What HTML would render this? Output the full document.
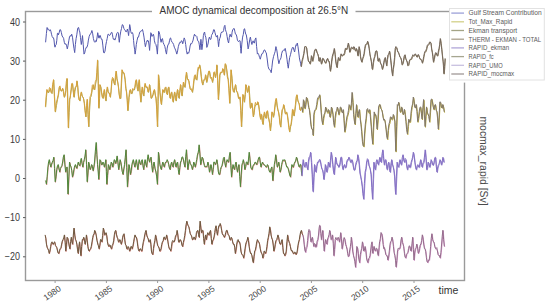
<!DOCTYPE html>
<html><head><meta charset="utf-8"><style>
html,body{margin:0;padding:0;background:#fff;width:550px;height:305px;overflow:hidden}
svg{display:block}
text{font-family:"Liberation Sans", sans-serif;}
.tk{font-size:10.2px;fill:#3a3a3a}
.xt{font-size:8.6px;fill:#444}
.ti{font-size:10.5px;fill:#333}
.al{font-size:10.5px;fill:#333}
.yl{font-size:10.3px;fill:#4a4a4a}
.lg{font-size:7.7px;fill:#5a5a5a}
</style></head><body>
<svg width="550" height="305" viewBox="0 0 550 305">
<rect x="25.5" y="11.5" width="439.0" height="269.0" fill="none" stroke="#9a9a9a" stroke-width="1.4"/>
<line x1="23.0" y1="22.0" x2="25.5" y2="22.0" stroke="#5a5a5a" stroke-width="1"/>
<text transform="translate(19.9,25.5) scale(0.88,1)" text-anchor="end" class="tk">40</text>
<line x1="23.0" y1="61.1" x2="25.5" y2="61.1" stroke="#5a5a5a" stroke-width="1"/>
<text transform="translate(19.9,64.6) scale(0.88,1)" text-anchor="end" class="tk">30</text>
<line x1="23.0" y1="100.2" x2="25.5" y2="100.2" stroke="#5a5a5a" stroke-width="1"/>
<text transform="translate(19.9,103.7) scale(0.88,1)" text-anchor="end" class="tk">20</text>
<line x1="23.0" y1="139.4" x2="25.5" y2="139.4" stroke="#5a5a5a" stroke-width="1"/>
<text transform="translate(19.9,142.9) scale(0.88,1)" text-anchor="end" class="tk">10</text>
<line x1="23.0" y1="178.5" x2="25.5" y2="178.5" stroke="#5a5a5a" stroke-width="1"/>
<text transform="translate(19.9,182.0) scale(0.88,1)" text-anchor="end" class="tk">0</text>
<line x1="23.0" y1="217.6" x2="25.5" y2="217.6" stroke="#5a5a5a" stroke-width="1"/>
<text transform="translate(19.9,221.1) scale(0.88,1)" text-anchor="end" class="tk">−10</text>
<line x1="23.0" y1="256.8" x2="25.5" y2="256.8" stroke="#5a5a5a" stroke-width="1"/>
<text transform="translate(19.9,260.3) scale(0.88,1)" text-anchor="end" class="tk">−20</text>
<line x1="55.1" y1="280.5" x2="55.1" y2="283.0" stroke="#9a9a9a" stroke-width="1"/>
<text transform="translate(61.7,290.1) rotate(-35)" text-anchor="end" class="xt">1980</text>
<line x1="106.4" y1="280.5" x2="106.4" y2="283.0" stroke="#9a9a9a" stroke-width="1"/>
<text transform="translate(113.0,290.1) rotate(-35)" text-anchor="end" class="xt">1985</text>
<line x1="157.6" y1="280.5" x2="157.6" y2="283.0" stroke="#9a9a9a" stroke-width="1"/>
<text transform="translate(164.2,290.1) rotate(-35)" text-anchor="end" class="xt">1990</text>
<line x1="208.9" y1="280.5" x2="208.9" y2="283.0" stroke="#9a9a9a" stroke-width="1"/>
<text transform="translate(215.5,290.1) rotate(-35)" text-anchor="end" class="xt">1995</text>
<line x1="260.2" y1="280.5" x2="260.2" y2="283.0" stroke="#9a9a9a" stroke-width="1"/>
<text transform="translate(266.8,290.1) rotate(-35)" text-anchor="end" class="xt">2000</text>
<line x1="311.4" y1="280.5" x2="311.4" y2="283.0" stroke="#9a9a9a" stroke-width="1"/>
<text transform="translate(318.1,290.1) rotate(-35)" text-anchor="end" class="xt">2005</text>
<line x1="362.7" y1="280.5" x2="362.7" y2="283.0" stroke="#9a9a9a" stroke-width="1"/>
<text transform="translate(369.3,290.1) rotate(-35)" text-anchor="end" class="xt">2010</text>
<line x1="414.0" y1="280.5" x2="414.0" y2="283.0" stroke="#9a9a9a" stroke-width="1"/>
<text transform="translate(420.6,290.1) rotate(-35)" text-anchor="end" class="xt">2015</text>
<path d="M45.7,107.2 L46.4,97.8 L47.2,90.0 L48.0,92.5 L48.9,92.5 L49.8,89.6 L50.6,88.8 L51.3,92.6 L52.1,93.7 L52.9,85.6 L53.8,80.2 L54.6,96.8 L55.5,112.1 L56.5,105.4 L57.5,99.8 L58.5,95.2 L59.5,87.5 L60.3,88.5 L61.2,91.2 L62.0,90.8 L62.9,88.8 L63.6,91.3 L64.4,97.4 L65.1,95.4 L65.9,91.2 L66.6,83.5 L67.3,78.9 L68.0,104.6 L68.6,128.1 L69.2,112.6 L69.8,99.8 L70.5,95.6 L71.3,90.0 L72.0,85.6 L72.7,83.9 L73.5,92.3 L74.2,97.4 L75.0,91.3 L75.7,87.5 L76.5,85.9 L77.2,81.4 L77.9,87.4 L78.6,96.1 L79.3,99.2 L80.1,101.1 L80.8,95.3 L81.6,92.5 L82.3,96.2 L83.1,97.4 L83.8,99.5 L84.5,103.5 L85.2,110.8 L86.0,117.0 L86.8,106.8 L87.5,99.8 L88.2,114.5 L88.9,126.9 L89.6,110.7 L90.4,97.4 L91.1,96.6 L91.9,92.5 L92.6,87.4 L93.4,85.1 L94.1,89.3 L94.8,90.0 L95.6,84.1 L96.5,80.2 L97.1,71.9 L97.8,60.5 L98.4,83.3 L99.0,108.4 L99.6,98.5 L100.2,85.1 L101.0,87.2 L101.7,92.5 L102.5,96.2 L103.2,98.6 L103.9,93.6 L104.6,90.0 L105.3,96.4 L106.1,101.1 L106.8,92.5 L107.6,87.5 L108.3,91.7 L109.1,93.7 L109.8,94.2 L110.5,97.4 L111.2,90.3 L112.0,81.4 L112.8,79.0 L113.5,78.9 L114.2,83.0 L115.0,85.1 L115.7,77.4 L116.4,71.6 L117.1,78.4 L117.9,82.6 L118.6,87.5 L119.4,94.9 L120.1,98.4 L120.9,98.6 L121.6,83.1 L122.3,70.3 L123.0,73.3 L123.8,72.8 L124.5,74.9 L125.3,80.2 L126.0,88.1 L126.7,92.5 L127.4,100.3 L128.0,110.9 L128.6,104.9 L129.2,97.4 L130.0,92.1 L130.7,90.0 L131.5,93.6 L132.2,93.7 L132.9,90.2 L133.6,90.0 L134.4,90.0 L135.1,87.5 L135.9,82.4 L136.6,80.2 L137.4,86.5 L138.1,91.2 L138.8,84.1 L139.5,80.2 L140.2,92.5 L141.0,102.3 L141.8,94.0 L142.5,87.5 L143.2,92.4 L143.9,96.1 L144.7,88.4 L145.4,83.9 L146.2,87.5 L146.9,87.5 L147.7,89.3 L148.4,92.5 L149.1,90.3 L149.8,85.1 L150.6,90.8 L151.3,98.6 L152.2,97.5 L153.2,94.9 L154.0,91.5 L154.7,90.0 L155.5,95.8 L156.2,98.6 L157.0,111.1 L157.7,126.9 L158.2,101.7 L158.7,75.3 L159.4,82.6 L160.1,92.5 L160.9,99.2 L161.6,104.7 L162.4,95.9 L163.1,90.0 L163.9,92.2 L164.6,92.5 L165.3,88.4 L166.0,87.5 L166.8,93.0 L167.5,94.9 L168.2,90.0 L169.0,87.5 L169.7,94.8 L170.4,98.6 L171.2,94.6 L171.9,92.5 L172.7,98.0 L173.4,102.3 L174.2,96.1 L174.9,92.5 L175.6,97.4 L176.3,101.1 L177.1,94.8 L177.8,90.0 L178.6,95.4 L179.3,98.6 L180.1,90.5 L180.8,85.1 L181.5,91.3 L182.2,96.1 L183.0,88.8 L183.7,82.6 L184.5,86.7 L185.2,87.5 L186.0,79.2 L186.7,72.8 L187.4,78.2 L188.1,80.2 L188.9,81.0 L189.6,85.1 L190.4,88.6 L191.1,90.0 L191.9,90.1 L192.6,92.5 L193.3,88.1 L194.0,81.4 L194.8,77.0 L195.5,75.3 L196.2,79.0 L197.0,80.2 L197.8,72.8 L198.5,67.9 L199.2,68.0 L199.9,65.4 L200.7,69.2 L201.4,76.5 L202.2,82.0 L202.9,85.1 L203.7,81.6 L204.4,80.2 L205.1,79.2 L205.8,75.3 L206.3,78.1 L206.8,82.6 L207.5,79.9 L208.2,75.3 L209.0,71.7 L209.7,71.6 L210.5,76.4 L211.2,78.9 L212.0,79.5 L212.7,82.6 L213.4,78.3 L214.1,72.8 L214.9,74.2 L215.6,77.7 L216.4,72.8 L217.1,65.4 L217.9,82.0 L218.6,99.8 L219.3,88.9 L220.0,75.3 L220.8,72.7 L221.5,72.8 L222.2,71.6 L223.0,69.1 L223.8,70.9 L224.5,75.3 L224.9,70.9 L225.4,64.2 L226.2,65.9 L226.9,70.3 L227.7,76.2 L228.4,80.2 L229.2,90.4 L229.9,103.5 L230.6,88.4 L231.3,70.3 L232.1,78.4 L232.8,87.6 L233.6,90.7 L234.3,92.5 L235.1,87.4 L235.8,85.1 L236.5,90.6 L237.2,92.5 L238.0,94.7 L238.7,98.6 L239.5,99.1 L240.2,97.4 L241.0,110.9 L241.7,126.9 L242.4,111.8 L243.1,94.9 L243.9,97.6 L244.6,102.3 L245.4,94.6 L246.1,85.1 L246.9,87.8 L247.6,92.5 L248.3,90.7 L249.0,86.3 L249.8,96.4 L250.5,108.4 L251.2,107.0 L252.0,103.5 L252.8,108.7 L253.5,117.0 L254.2,112.7 L254.9,107.2 L255.7,104.7 L256.4,104.7 L257.2,105.0 L257.9,102.3 L258.7,105.1 L259.4,109.7 L260.1,115.4 L260.8,119.5 L261.3,115.6 L261.8,114.9 L262.5,120.6 L263.2,124.7 L263.9,117.8 L264.7,112.5 L265.4,116.6 L266.2,118.6 L266.9,113.5 L267.7,111.2 L268.4,116.2 L269.1,119.8 L269.9,124.4 L270.6,130.9 L271.4,122.7 L272.1,112.5 L272.9,113.4 L273.6,117.4 L274.3,113.5 L275.0,107.5 L275.8,101.6 L276.5,98.9 L277.2,105.2 L278.0,110.0 L278.8,112.7 L279.5,117.4 L280.2,123.7 L280.9,127.2 L281.7,116.9 L282.4,110.0 L283.2,108.7 L283.9,105.1 L284.7,108.6 L285.4,113.7 L286.1,113.8 L286.8,112.5 L287.6,115.6 L288.3,121.1 L289.1,127.4 L289.8,132.1 L290.6,126.8 L291.3,124.7 L292.0,118.9 L292.7,110.0 L293.4,112.3 L294.2,116.1 L294.9,111.5 L295.7,105.1 L296.4,98.6 L297.2,95.3 L297.9,100.3 L298.6,102.6 L299.4,104.7 L300.1,110.0 L300.9,109.8 L301.6,107.6" fill="none" stroke="#a8a048" stroke-width="0.9" stroke-linejoin="round"/>
<path d="M45.4,106.6 L46.1,96.8 L46.9,89.4 L47.8,92.2 L48.6,91.9 L49.5,87.5 L50.3,88.2 L51.0,92.1 L51.8,93.1 L52.6,84.7 L53.5,79.6 L54.4,97.3 L55.2,111.5 L56.2,103.6 L57.2,99.2 L58.2,94.8 L59.2,86.9 L60.0,85.9 L60.9,90.6 L61.8,90.6 L62.6,88.2 L63.3,91.6 L64.1,96.8 L64.8,96.6 L65.6,90.6 L66.3,81.7 L67.0,78.3 L67.7,105.9 L68.3,127.5 L68.9,111.5 L69.5,99.2 L70.2,97.2 L71.0,89.4 L71.7,83.5 L72.4,83.3 L73.2,91.4 L73.9,96.8 L74.7,89.4 L75.4,86.9 L76.2,86.5 L76.9,80.8 L77.6,85.9 L78.3,95.5 L79.0,100.0 L79.8,100.5 L80.5,94.7 L81.3,91.9 L82.0,96.0 L82.8,96.8 L83.5,98.5 L84.2,102.9 L85.0,110.7 L85.7,116.4 L86.5,105.7 L87.2,99.2 L87.9,114.3 L88.6,126.3 L89.3,108.9 L90.1,96.8 L90.8,95.3 L91.6,91.9 L92.3,85.4 L93.1,84.5 L93.8,89.3 L94.5,89.4 L95.3,81.7 L96.2,79.6 L96.8,72.5 L97.5,59.9 L98.1,81.1 L98.7,107.8 L99.3,98.3 L99.9,84.5 L100.7,87.3 L101.4,91.9 L102.2,97.4 L102.9,98.0 L103.6,92.4 L104.3,89.4 L105.0,96.5 L105.8,100.5 L106.5,91.4 L107.3,86.9 L108.0,92.0 L108.8,93.1 L109.5,93.2 L110.2,96.8 L111.0,91.7 L111.7,80.8 L112.5,77.4 L113.2,78.3 L114.0,83.0 L114.7,84.5 L115.4,76.3 L116.1,71.0 L116.8,79.2 L117.6,82.0 L118.3,86.2 L119.1,94.3 L119.8,98.7 L120.6,98.0 L121.3,82.2 L122.0,69.7 L122.8,72.3 L123.5,72.2 L124.2,73.9 L125.0,79.6 L125.7,88.4 L126.4,91.9 L127.1,99.8 L127.7,110.3 L128.3,106.1 L128.9,96.8 L129.7,90.3 L130.4,89.4 L131.2,93.8 L131.9,93.1 L132.6,88.6 L133.3,89.4 L134.1,89.1 L134.8,86.9 L135.6,81.0 L136.3,79.6 L137.1,87.8 L137.8,90.6 L138.5,84.1 L139.2,79.6 L139.9,92.1 L140.7,101.7 L141.4,92.8 L142.2,86.9 L142.9,93.2 L143.6,95.5 L144.3,87.6 L145.1,83.3 L145.8,87.0 L146.6,86.9 L147.3,86.9 L148.1,91.9 L148.8,89.1 L149.5,84.5 L150.2,90.2 L151.0,98.0 L151.9,97.3 L152.9,94.3 L153.7,90.7 L154.4,89.4 L155.2,94.7 L155.9,98.0 L156.7,109.2 L157.4,126.3 L157.9,103.2 L158.4,74.7 L159.1,82.2 L159.8,91.9 L160.6,100.0 L161.3,104.1 L162.1,95.2 L162.8,89.4 L163.6,92.2 L164.3,91.9 L165.0,87.8 L165.7,86.9 L166.4,92.9 L167.2,94.3 L167.9,88.5 L168.7,86.9 L169.4,94.1 L170.1,98.0 L170.8,93.6 L171.6,91.9 L172.3,98.4 L173.1,101.7 L173.8,95.6 L174.6,91.9 L175.3,98.3 L176.0,100.5 L176.8,92.5 L177.5,89.4 L178.2,95.4 L179.0,98.0 L179.8,90.2 L180.5,84.5 L181.2,91.3 L181.9,95.5 L182.7,87.1 L183.4,82.0 L184.2,86.6 L184.9,86.9 L185.7,77.0 L186.4,72.2 L187.1,77.6 L187.8,79.6 L188.6,79.5 L189.3,84.5 L190.1,89.2 L190.8,89.4 L191.6,88.8 L192.3,91.9 L193.0,88.0 L193.7,80.8 L194.4,75.8 L195.2,74.7 L195.9,79.5 L196.7,79.6 L197.4,71.7 L198.2,67.3 L198.9,68.4 L199.6,64.8 L200.3,68.5 L201.1,75.9 L201.8,81.6 L202.6,84.5 L203.3,80.0 L204.1,79.6 L204.8,79.5 L205.5,74.7 L206.0,77.3 L206.5,82.0 L207.2,80.1 L207.9,74.7 L208.7,71.1 L209.4,71.0 L210.2,77.4 L210.9,78.3 L211.7,77.3 L212.4,82.0 L213.1,78.8 L213.8,72.2 L214.6,71.9 L215.3,77.1 L216.1,73.5 L216.8,64.8 L217.6,80.5 L218.3,99.2 L219.0,88.8 L219.7,74.7 L220.4,72.3 L221.2,72.2 L221.9,73.0 L222.7,68.5 L223.4,69.3 L224.2,74.7 L224.6,71.9 L225.1,63.6 L225.8,64.1 L226.6,69.7 L227.3,77.0 L228.1,79.6 L228.8,88.8 L229.6,102.9 L230.3,88.4 L231.0,69.7 L231.8,77.2 L232.5,87.0 L233.2,91.6 L234.0,91.9 L234.8,87.3 L235.5,84.5 L236.2,89.4 L236.9,91.9 L237.7,92.4 L238.4,98.0 L239.2,98.4 L239.9,96.8 L240.7,110.5 L241.4,126.3 L242.1,111.4 L242.8,94.3 L243.6,95.3 L244.3,101.7 L245.1,94.4 L245.8,84.5 L246.6,87.3 L247.3,91.9 L248.0,91.5 L248.7,85.7 L249.4,95.6 L250.2,107.8 L250.9,108.0 L251.7,102.9 L252.4,107.3 L253.2,116.4 L253.9,114.2 L254.6,106.6 L255.4,102.4 L256.1,104.1 L256.9,105.0 L257.6,101.7 L258.4,102.8 L259.1,109.1 L259.8,115.0 L260.5,118.9 L261.0,114.1 L261.5,114.3 L262.2,121.2 L262.9,124.1 L263.6,115.6 L264.4,111.9 L265.1,116.1 L265.9,118.0 L266.6,111.8 L267.4,110.6 L268.1,117.8 L268.8,119.2 L269.6,123.7 L270.3,130.3 L271.1,122.7 L271.8,111.9 L272.6,112.3 L273.3,116.8 L274.0,114.5 L274.7,106.9 L275.4,101.2 L276.2,98.3 L276.9,105.1 L277.7,109.4 L278.4,111.7 L279.2,116.8 L279.9,123.9 L280.6,126.6 L281.4,115.5 L282.1,109.4 L282.9,108.7 L283.6,104.5 L284.4,107.1 L285.1,113.1 L285.8,114.2 L286.5,111.9 L287.2,114.6 L288.0,120.5 L288.8,127.8 L289.5,131.5 L290.2,126.7 L291.0,124.1 L291.7,118.7 L292.4,109.4 L293.1,109.5 L293.9,115.5 L294.6,111.8 L295.4,104.5 L296.1,97.1 L296.9,94.7 L297.6,99.6 L298.3,102.0 L299.1,103.3 L299.8,109.4 L300.6,110.7 L301.3,107.0" fill="none" stroke="#d6a23c" stroke-width="1.0" stroke-linejoin="round"/>
<path d="M301.7,107.8 L302.3,108.6 L302.9,112.7 L303.3,108.1 L303.8,100.5 L304.5,103.4 L305.3,109.1 L306.0,105.2 L306.8,98.0 L307.5,98.4 L308.3,102.9 L309.0,107.5 L309.7,110.3 L310.4,116.8 L311.2,125.0 L311.9,129.3 L312.7,129.9 L313.1,130.9 L313.5,136.0 L313.9,127.1 L314.2,115.2 L314.9,111.4 L315.6,110.3 L316.3,109.6 L317.1,105.4 L317.8,100.8 L318.6,98.0 L319.3,97.8 L320.1,95.5 L320.8,103.1 L321.5,112.7 L322.2,120.4 L323.0,125.0 L323.8,119.0 L324.5,115.2 L325.2,112.5 L326.0,107.8 L326.7,108.5 L327.4,112.7 L328.1,113.6 L328.9,110.3 L329.6,112.9 L330.4,117.7 L331.1,114.5 L331.8,107.8 L332.5,110.2 L333.3,115.2 L334.0,123.3 L334.8,127.5 L335.5,118.5 L336.3,112.7 L337.0,111.3 L337.7,107.8 L338.4,110.5 L339.2,115.2 L339.9,112.2 L340.7,107.8 L341.4,108.9 L342.2,112.7 L342.9,112.7 L343.6,110.3 L344.3,120.4 L345.1,132.4 L345.8,128.7 L346.6,122.6 L347.3,117.7 L348.1,115.2 L348.8,112.2 L349.5,105.4 L350.2,107.0 L351.0,110.3 L351.8,103.9 L352.5,93.1 L353.2,102.8 L354.0,115.2 L354.7,121.7 L355.4,125.0 L356.1,113.8 L356.9,105.4 L357.6,113.5 L358.3,117.7 L359.0,112.1 L359.8,110.3 L360.5,119.2 L361.3,125.0 L362.0,132.2 L362.8,142.2 L363.5,146.4 L364.2,147.1 L364.9,134.1 L365.7,125.0 L366.4,118.9 L367.2,110.3 L367.9,109.7 L368.7,112.7 L369.4,113.6 L370.1,110.3 L370.8,117.5 L371.6,127.5 L372.3,137.1 L373.1,144.7 L373.8,127.7 L374.6,112.7 L375.3,115.7 L376.0,115.2 L376.8,120.8 L377.5,129.9 L378.2,121.0 L379.0,107.8 L379.8,104.6 L380.5,105.4 L381.2,108.9 L381.9,110.3 L382.6,113.0 L383.4,117.7 L384.1,120.0 L384.9,120.1 L385.6,124.1 L386.4,129.9 L387.1,136.6 L387.8,139.8 L388.5,130.4 L389.3,125.0 L390.0,123.4 L390.8,117.7 L391.5,117.8 L392.3,120.1 L393.0,119.6 L393.7,115.2 L394.4,117.8 L395.2,122.6 L395.7,138.7 L396.2,152.1 L396.9,127.0 L397.7,105.4 L398.4,104.9 L399.1,102.9 L399.8,107.0 L400.6,112.7 L401.2,112.1 L401.9,107.7 L402.6,110.2 L403.3,115.0 L404.0,113.8 L404.8,110.1 L405.5,114.7 L406.3,122.4 L407.0,130.3 L407.8,134.7 L408.5,126.6 L409.2,119.9 L409.9,122.3 L410.7,122.4 L411.4,113.7 L412.2,107.7 L412.9,104.2 L413.7,97.8 L414.4,101.8 L415.1,107.7 L415.8,108.0 L416.6,105.2 L417.3,111.7 L418.1,122.4 L418.8,118.8 L419.6,112.6 L420.3,108.7 L421.0,107.7 L421.8,114.6 L422.5,119.9 L423.2,109.0 L424.0,100.3 L424.8,115.5 L425.5,127.3 L426.2,116.7 L426.9,107.7 L427.6,113.4 L428.4,115.0 L429.1,116.6 L429.9,122.4 L430.6,112.2 L431.4,100.3 L432.1,99.4 L432.8,102.7 L433.5,107.6 L434.3,110.1 L435.0,105.8 L435.8,105.2 L436.5,110.7 L437.3,112.6 L438.0,120.1 L438.7,129.8 L439.4,118.0 L440.2,102.7 L440.9,103.5 L441.7,107.7 L442.4,108.4 L443.2,105.2 L443.9,107.8 L444.6,112.6" fill="none" stroke="#b8a83a" stroke-width="1.0" stroke-linejoin="round"/>
<path d="M301.3,107.0 L301.9,107.4 L302.5,111.9 L302.9,108.2 L303.4,99.7 L304.1,102.1 L304.9,108.3 L305.6,104.4 L306.4,97.2 L307.1,98.7 L307.9,102.1 L308.6,107.4 L309.3,109.5 L310.1,115.5 L310.8,124.2 L311.6,128.7 L312.3,129.1 L312.7,130.2 L313.1,135.2 L313.5,126.5 L313.8,114.4 L314.5,110.9 L315.2,109.5 L315.9,108.9 L316.7,104.6 L317.4,99.0 L318.2,97.2 L318.9,97.0 L319.7,94.7 L320.4,101.0 L321.1,111.9 L321.9,119.9 L322.6,124.2 L323.4,118.3 L324.1,114.4 L324.9,113.1 L325.6,107.0 L326.3,108.5 L327.0,111.9 L327.8,112.0 L328.5,109.5 L329.2,111.2 L330.0,116.9 L330.7,113.7 L331.4,107.0 L332.1,109.0 L332.9,114.4 L333.6,122.4 L334.4,126.7 L335.1,117.7 L335.9,111.9 L336.6,110.7 L337.3,107.0 L338.1,109.6 L338.8,114.4 L339.6,111.6 L340.3,107.0 L341.1,107.4 L341.8,111.9 L342.5,112.8 L343.2,109.5 L343.9,118.8 L344.7,131.6 L345.4,128.7 L346.2,121.8 L346.9,116.7 L347.7,114.4 L348.4,110.7 L349.1,104.6 L349.9,105.6 L350.6,109.5 L351.4,103.2 L352.1,92.3 L352.9,102.5 L353.6,114.4 L354.3,120.9 L355.0,124.2 L355.8,113.2 L356.5,104.6 L357.2,112.8 L357.9,116.9 L358.6,111.8 L359.4,109.5 L360.1,118.2 L360.9,124.2 L361.6,131.3 L362.4,141.4 L363.1,145.5 L363.8,146.3 L364.6,133.1 L365.3,124.2 L366.1,118.2 L366.8,109.5 L367.6,108.5 L368.3,111.9 L369.0,111.6 L369.7,109.5 L370.4,116.9 L371.2,126.7 L371.9,136.2 L372.7,143.9 L373.4,127.0 L374.2,111.9 L374.9,115.3 L375.6,114.4 L376.4,119.7 L377.1,129.1 L377.9,119.1 L378.6,107.0 L379.4,104.7 L380.1,104.6 L380.8,108.5 L381.5,109.5 L382.2,111.1 L383.0,116.9 L383.8,120.3 L384.5,119.3 L385.2,122.1 L386.0,129.1 L386.7,135.8 L387.4,139.0 L388.1,130.6 L388.9,124.2 L389.6,122.0 L390.4,116.9 L391.1,117.0 L391.9,119.3 L392.6,118.5 L393.3,114.4 L394.1,116.4 L394.8,121.8 L395.3,137.7 L395.8,151.3 L396.6,126.8 L397.3,104.6 L398.0,105.5 L398.7,102.1 L399.4,106.2 L400.2,111.9 L400.9,111.6 L401.5,106.9 L402.2,108.2 L402.9,114.2 L403.6,114.2 L404.4,109.3 L405.1,114.0 L405.9,121.6 L406.6,129.5 L407.4,133.9 L408.1,124.7 L408.8,119.1 L409.6,122.2 L410.3,121.6 L411.1,111.8 L411.8,106.9 L412.6,103.9 L413.3,97.0 L414.0,100.7 L414.7,106.9 L415.4,107.9 L416.2,104.4 L416.9,111.4 L417.7,121.6 L418.4,118.5 L419.2,111.8 L419.9,107.3 L420.6,106.9 L421.4,113.8 L422.1,119.1 L422.9,107.2 L423.6,99.5 L424.4,114.9 L425.1,126.5 L425.8,115.1 L426.5,106.9 L427.2,112.2 L428.0,114.2 L428.8,116.3 L429.5,121.6 L430.2,111.6 L431.0,99.5 L431.7,99.0 L432.4,101.9 L433.1,106.4 L433.9,109.3 L434.6,105.2 L435.4,104.4 L436.1,110.0 L436.9,111.8 L437.6,118.9 L438.3,129.0 L439.1,117.2 L439.8,101.9 L440.6,102.0 L441.3,106.9 L442.1,108.0 L442.8,104.4 L443.5,107.1 L444.2,111.8" fill="none" stroke="#82786a" stroke-width="1.0" stroke-linejoin="round"/>
<path d="M45.6,42.3 L46.4,33.6 L47.1,27.5 L47.6,29.4 L48.1,29.0 L48.6,29.2 L49.1,30.5 L49.7,30.9 L50.3,29.7 L50.9,31.3 L51.5,34.2 L52.2,36.6 L53.0,37.9 L53.5,37.9 L54.0,40.0 L54.5,45.0 L55.0,47.2 L55.6,45.1 L56.2,44.5 L56.8,40.3 L57.4,33.4 L57.9,33.0 L58.4,34.9 L59.1,32.9 L59.9,29.7 L60.6,29.8 L61.4,32.7 L62.1,36.0 L62.9,37.1 L63.6,38.3 L64.3,42.3 L65.0,44.3 L65.8,43.8 L66.5,45.1 L67.3,48.9 L68.0,45.7 L68.8,40.8 L69.5,36.9 L70.2,35.6 L71.0,36.3 L71.7,34.2 L72.5,37.2 L73.2,43.0 L74.0,48.7 L74.7,52.6 L75.4,44.4 L76.1,38.6 L76.8,34.8 L77.6,29.0 L78.1,27.7 L78.6,27.5 L79.2,30.2 L79.8,32.0 L80.5,37.7 L81.3,44.5 L81.9,40.7 L82.5,35.6 L83.2,44.2 L84.0,54.1 L84.7,52.9 L85.4,49.7 L86.2,47.4 L86.9,47.4 L87.7,44.8 L88.4,40.1 L89.2,36.3 L90.1,34.2 L91.0,33.5 L91.9,30.5 L92.7,33.8 L93.4,38.6 L94.2,41.4 L94.9,42.3 L95.6,40.7 L96.3,41.5 L97.0,38.0 L97.7,32.7 L98.2,34.7 L98.7,37.9 L99.2,38.1 L99.7,35.6 L100.3,35.5 L100.9,37.9 L101.5,39.4 L102.1,39.3 L102.8,45.1 L103.6,52.6 L104.3,52.9 L105.0,51.1 L105.8,45.2 L106.5,41.5 L107.2,38.5 L108.0,34.2 L108.8,34.4 L109.5,35.6 L110.3,34.8 L111.2,32.7 L111.8,32.2 L112.4,34.2 L112.9,37.4 L113.4,39.3 L114.2,38.8 L114.9,40.1 L115.8,37.4 L116.8,33.4 L117.5,32.4 L118.3,32.7 L118.8,38.1 L119.3,42.3 L120.0,35.9 L120.8,31.2 L121.5,28.5 L122.3,24.6 L122.8,24.9 L123.3,26.1 L123.9,28.5 L124.5,29.7 L125.2,30.2 L126.0,32.0 L126.7,31.5 L127.4,29.0 L128.0,31.8 L128.6,35.6 L129.1,30.6 L129.7,24.6 L130.2,27.0 L130.7,31.2 L131.3,33.2 L131.9,33.4 L132.4,32.6 L133.0,34.2 L133.6,40.6 L134.1,46.0 L134.6,49.2 L135.1,54.1 L135.7,50.2 L136.3,44.5 L137.1,40.3 L137.8,37.1 L138.5,37.1 L139.2,34.2 L139.9,32.0 L140.7,31.2 L141.6,30.9 L142.5,29.5 L143.2,32.4 L144.0,37.1 L144.7,42.5 L145.4,46.7 L146.4,42.3 L147.4,40.1 L147.9,41.3 L148.4,40.8 L149.0,45.0 L149.6,50.4 L150.2,42.1 L150.8,32.7 L151.3,33.3 L151.8,36.4 L152.6,36.0 L153.3,34.2 L153.9,36.2 L154.4,40.8 L155.2,43.6 L155.9,44.5 L156.7,47.9 L157.4,54.1 L158.0,43.4 L158.6,31.2 L159.1,32.0 L159.7,34.2 L160.4,39.0 L161.1,42.3 L161.8,39.1 L162.5,38.6 L163.2,42.7 L164.0,44.5 L164.8,46.3 L165.5,49.7 L166.0,52.4 L166.5,54.1 L167.2,48.1 L168.0,44.5 L168.8,44.1 L169.5,40.8 L170.1,38.3 L170.6,37.9 L171.3,40.6 L172.1,42.3 L172.8,42.9 L173.6,44.5 L174.3,47.2 L175.1,48.9 L175.9,50.9 L176.8,54.1 L177.6,50.9 L178.3,46.7 L179.1,44.0 L179.8,42.3 L180.6,42.7 L181.3,40.8 L182.0,40.9 L182.7,43.8 L183.4,41.5 L184.2,37.9 L184.9,39.7 L185.7,44.5 L186.4,50.3 L187.2,54.1 L187.9,52.4 L188.6,53.3 L189.3,51.1 L190.1,46.0 L190.8,43.5 L191.6,43.8 L192.3,42.4 L193.1,40.1 L193.8,36.4 L194.5,34.2 L195.2,36.0 L196.0,35.6 L196.8,36.4 L197.5,40.1 L198.1,41.3 L198.7,41.5 L199.3,44.8 L199.9,49.7 L200.4,45.8 L200.9,39.3 L201.4,43.9 L201.9,49.7 L202.7,43.5 L203.4,35.6 L204.0,33.0 L204.6,32.0 L205.2,35.7 L205.8,37.1 L206.3,40.8 L206.8,47.4 L207.5,45.8 L208.2,43.0 L208.8,38.8 L209.4,37.1 L210.2,39.4 L210.9,39.3 L211.5,35.4 L212.1,34.2 L212.8,33.0 L213.6,29.7 L214.3,29.8 L215.0,32.7 L215.8,35.7 L216.5,37.1 L217.0,35.5 L217.5,35.6 L218.1,41.8 L218.6,46.7 L219.1,41.4 L219.7,38.6 L220.3,37.0 L220.9,33.4 L221.7,32.0 L222.4,32.0 L223.0,31.9 L223.6,30.5 L224.2,26.7 L224.9,25.3 L225.4,29.3 L225.9,31.2 L226.5,32.6 L227.1,36.4 L227.8,40.6 L228.6,43.0 L229.3,37.6 L230.1,34.2 L230.8,36.3 L231.5,37.1 L232.1,32.2 L232.7,29.7 L233.2,29.5 L233.8,28.3 L234.3,28.8 L234.8,31.2 L235.4,33.9 L236.0,34.2 L236.7,36.0 L237.4,40.1 L238.2,41.4 L238.9,41.5 L239.5,40.5 L240.1,40.8 L240.6,48.4 L241.1,53.3 L241.8,44.1 L242.6,37.1 L243.3,34.4 L244.1,29.0 L244.6,28.7 L245.1,31.2 L245.7,34.0 L246.3,34.9 L247.2,40.5 L248.1,48.9 L248.6,47.2 L249.2,43.0 L249.8,39.2 L250.4,37.1 L251.2,41.6 L251.9,44.5 L252.5,42.1 L253.1,40.8 L253.8,42.8 L254.4,43.0 L255.2,39.0 L255.9,37.9 L256.6,46.6 L257.4,54.1 L258.1,53.4 L258.8,54.8 L259.6,57.6 L260.3,59.2 L261.1,56.0 L261.8,53.8 L262.7,53.6 L263.6,51.1 L264.3,49.9 L265.0,50.2 L265.6,52.1 L266.3,52.9 L267.2,59.0 L268.1,66.4 L269.0,69.3 L269.9,70.0 L270.5,70.3 L271.2,72.7 L271.9,67.3 L272.6,61.0 L273.5,56.7 L274.4,53.8 L275.1,51.7 L275.9,46.6 L276.5,48.6 L277.1,52.0 L278.0,58.9 L278.9,63.7 L279.6,60.6 L280.4,59.2 L281.0,57.8 L281.6,53.8 L282.5,50.9 L283.4,50.2 L284.3,50.6 L285.2,48.4 L286.1,52.8 L287.0,59.2 L287.6,64.3 L288.3,68.2 L289.0,62.2 L289.7,57.4 L290.6,54.3 L291.5,50.2 L292.4,47.5 L293.3,47.5 L294.0,50.3 L294.6,52.0 L295.3,47.9 L296.0,44.8 L296.6,45.4 L297.3,43.0 L298.0,46.8 L298.7,52.0 L299.4,57.9 L300.0,61.0 L300.6,63.2 L301.1,66.4" fill="none" stroke="#5358ad" stroke-width="1.0" stroke-linejoin="round"/>
<path d="M301.4,67.0 L302.3,61.6 L303.2,58.0 L304.1,53.3 L305.0,47.2 L305.9,46.3 L306.8,48.1 L307.7,55.9 L308.6,61.6 L309.5,61.8 L310.4,64.3 L311.1,61.5 L311.7,56.2 L312.3,57.5 L312.9,61.6 L313.8,57.5 L314.7,51.7 L315.6,49.7 L316.5,49.9 L317.2,53.1 L318.0,54.4 L318.7,57.4 L319.3,61.6 L319.8,61.1 L320.3,58.0 L320.9,60.1 L321.6,64.3 L322.3,62.9 L322.9,58.9 L323.6,59.1 L324.3,60.7 L325.2,63.1 L326.1,63.4 L327.0,60.2 L327.9,58.9 L328.6,61.5 L329.3,61.6 L329.9,66.0 L330.6,71.5 L331.3,67.4 L331.9,61.6 L332.6,57.0 L333.3,54.4 L333.9,52.2 L334.6,49.0 L335.3,54.3 L336.0,61.6 L336.7,66.0 L337.3,67.9 L338.0,62.1 L338.7,58.0 L339.4,60.5 L340.2,60.7 L340.8,56.5 L341.4,54.4 L342.1,56.0 L342.7,56.2 L343.4,54.9 L344.1,55.3 L344.9,53.6 L345.6,49.0 L346.2,48.6 L346.8,49.9 L347.7,47.7 L348.6,43.6 L349.3,47.6 L349.9,52.6 L350.6,51.0 L351.3,48.1 L352.1,47.9 L352.8,49.0 L353.4,49.5 L354.0,47.2 L354.7,47.8 L355.3,50.8 L356.0,51.3 L356.7,49.0 L357.4,51.1 L358.2,56.2 L358.8,52.8 L359.4,47.2 L360.1,50.7 L360.7,57.1 L361.4,60.8 L362.1,62.5 L362.9,58.9 L363.6,57.1 L364.3,54.5 L365.0,49.0 L365.8,45.4 L366.5,44.5 L367.2,44.6 L367.9,41.8 L368.7,44.4 L369.4,49.0 L370.1,54.8 L370.8,58.0 L371.5,61.6 L372.2,67.0 L372.5,69.8 L372.8,69.7 L373.6,62.9 L374.3,58.9 L375.0,56.5 L375.7,52.6 L376.4,50.7 L377.1,51.7 L377.8,57.3 L378.4,61.6 L379.1,59.7 L379.7,58.9 L380.4,62.8 L381.1,64.3 L381.9,66.2 L382.6,69.7 L383.3,67.5 L384.0,63.4 L384.8,59.6 L385.6,58.0 L386.3,62.5 L386.9,66.1 L387.6,59.5 L388.3,55.3 L389.1,54.2 L389.8,51.7 L390.4,55.3 L391.0,60.7 L391.9,69.2 L392.8,76.1 L393.4,69.4 L394.1,65.2 L394.8,58.3 L395.5,49.0 L396.2,47.8 L397.0,48.1 L397.6,50.9 L398.2,52.6 L398.8,53.2 L399.5,55.3 L400.2,57.5 L400.9,58.0 L401.7,61.1 L402.4,65.2 L403.1,63.6 L403.8,60.7 L404.6,56.7 L405.3,55.3 L406.0,59.2 L406.7,60.7 L407.4,61.9 L408.1,66.1 L408.9,65.3 L409.6,61.6 L410.3,59.3 L411.0,59.8 L411.8,59.3 L412.5,57.1 L413.2,56.0 L413.9,56.2 L414.6,56.1 L415.3,54.4 L416.1,54.8 L416.8,57.1 L417.5,57.2 L418.2,55.3 L418.9,55.6 L419.7,58.0 L420.4,59.7 L421.1,59.8 L421.9,60.3 L422.6,63.4 L423.3,61.0 L424.0,57.1 L424.7,53.5 L425.4,51.7 L426.2,51.7 L426.9,49.0 L427.6,45.9 L428.3,45.4 L429.1,44.8 L429.8,42.7 L430.5,42.4 L431.2,43.6 L431.8,49.4 L432.5,52.6 L433.1,57.1 L433.7,62.5 L434.4,59.5 L435.2,55.3 L435.9,53.4 L436.6,53.5 L437.3,55.9 L438.0,56.2 L438.7,52.0 L439.3,49.0 L439.9,44.6 L440.6,39.1 L441.3,43.8 L442.0,49.9 L442.7,57.0 L443.3,61.6 L443.8,67.0 L444.2,74.2 L444.8,68.0 L445.4,58.9" fill="none" stroke="#8a7a5a" stroke-width="0.9" stroke-linejoin="round"/>
<path d="M301.1,66.4 L302.0,60.6 L302.9,57.4 L303.8,53.5 L304.7,46.6 L305.6,46.6 L306.5,47.5 L307.4,54.9 L308.3,61.0 L309.2,61.9 L310.1,63.7 L310.8,60.6 L311.4,55.6 L312.0,57.5 L312.6,61.0 L313.5,56.6 L314.4,51.1 L315.3,49.2 L316.2,49.3 L316.9,52.1 L317.7,53.8 L318.4,56.6 L319.0,61.0 L319.5,59.9 L320.0,57.4 L320.6,59.3 L321.3,63.7 L322.0,61.9 L322.6,58.3 L323.3,58.5 L324.0,60.1 L324.9,61.9 L325.8,62.8 L326.7,59.6 L327.6,58.3 L328.3,60.8 L329.0,61.0 L329.6,64.8 L330.3,70.9 L331.0,67.4 L331.6,61.0 L332.3,56.1 L333.0,53.8 L333.6,51.8 L334.3,48.4 L335.0,54.1 L335.7,61.0 L336.4,65.4 L337.0,67.3 L337.7,61.1 L338.4,57.4 L339.1,59.7 L339.9,60.1 L340.5,55.6 L341.1,53.8 L341.8,55.7 L342.4,55.6 L343.1,54.4 L343.8,54.7 L344.6,52.2 L345.3,48.4 L345.9,48.4 L346.5,49.3 L347.4,47.3 L348.3,43.0 L349.0,46.1 L349.6,52.0 L350.3,51.2 L351.0,47.5 L351.8,47.0 L352.5,48.4 L353.1,48.6 L353.7,46.6 L354.4,47.0 L355.0,50.2 L355.7,50.6 L356.4,48.4 L357.1,50.9 L357.9,55.6 L358.5,52.0 L359.1,46.6 L359.8,50.6 L360.4,56.5 L361.1,59.8 L361.8,61.9 L362.6,58.6 L363.3,56.5 L364.0,53.6 L364.7,48.4 L365.4,44.7 L366.2,43.9 L366.9,43.6 L367.6,41.2 L368.4,43.9 L369.1,48.4 L369.8,53.7 L370.5,57.4 L371.2,61.0 L371.9,66.4 L372.2,69.0 L372.5,69.1 L373.2,62.8 L374.0,58.3 L374.7,56.6 L375.4,52.0 L376.1,50.9 L376.8,51.1 L377.5,56.8 L378.1,61.0 L378.8,58.7 L379.4,58.3 L380.1,61.9 L380.8,63.7 L381.6,65.1 L382.3,69.1 L383.0,67.3 L383.7,62.8 L384.5,58.7 L385.3,57.4 L386.0,62.5 L386.6,65.5 L387.3,59.6 L388.0,54.7 L388.8,54.0 L389.5,51.1 L390.1,54.6 L390.7,60.1 L391.6,68.8 L392.5,75.5 L393.1,69.3 L393.8,64.6 L394.5,57.7 L395.2,48.4 L395.9,46.5 L396.7,47.5 L397.3,50.3 L397.9,52.0 L398.5,52.2 L399.2,54.7 L399.9,56.9 L400.6,57.4 L401.4,60.0 L402.1,64.6 L402.8,63.7 L403.5,60.1 L404.2,55.9 L405.0,54.7 L405.7,58.5 L406.4,60.1 L407.1,62.1 L407.8,65.5 L408.6,64.7 L409.3,61.0 L410.0,59.5 L410.7,59.2 L411.4,58.7 L412.2,56.5 L412.9,54.7 L413.6,55.6 L414.3,55.5 L415.0,53.8 L415.8,54.4 L416.5,56.5 L417.2,57.0 L417.9,54.7 L418.6,54.6 L419.4,57.4 L420.1,59.1 L420.8,59.2 L421.6,60.1 L422.3,62.8 L423.0,60.4 L423.7,56.5 L424.4,53.2 L425.1,51.1 L425.9,50.5 L426.6,48.4 L427.3,45.1 L428.0,44.8 L428.8,44.0 L429.5,42.1 L430.2,41.9 L430.9,43.0 L431.5,48.2 L432.2,52.0 L432.8,56.4 L433.4,61.9 L434.1,59.3 L434.9,54.7 L435.6,52.6 L436.3,52.9 L437.0,55.6 L437.7,55.6 L438.4,50.9 L439.0,48.4 L439.6,44.8 L440.3,38.5 L441.0,43.4 L441.7,49.3 L442.4,55.9 L443.0,61.0 L443.4,65.8 L443.9,73.6 L444.5,66.5 L445.1,58.3" fill="none" stroke="#75685c" stroke-width="1.0" stroke-linejoin="round"/>
<path d="M45.7,181.1 L46.2,182.2 L46.7,184.7 L47.4,177.1 L48.2,167.5 L48.9,163.1 L49.6,160.2 L50.3,164.9 L51.1,167.5 L51.8,164.6 L52.6,162.6 L53.3,160.8 L54.1,157.7 L54.8,168.5 L55.5,182.3 L56.2,176.8 L57.0,170.0 L57.8,166.1 L58.5,165.1 L59.2,169.4 L60.0,172.5 L60.7,168.5 L61.4,167.5 L62.1,166.2 L62.9,162.6 L63.6,157.8 L64.4,155.3 L65.1,164.5 L65.9,172.5 L66.6,169.5 L67.3,167.5 L67.8,182.3 L68.3,194.6 L69.0,178.0 L69.8,162.6 L70.5,165.7 L71.3,167.5 L72.0,171.1 L72.7,177.4 L73.5,175.1 L74.2,170.0 L75.0,167.0 L75.7,165.1 L76.5,168.4 L77.2,168.8 L77.9,164.7 L78.6,162.6 L79.3,165.3 L80.1,166.3 L80.8,162.0 L81.6,158.9 L82.3,164.1 L83.1,167.5 L83.8,162.4 L84.5,160.2 L85.2,156.0 L86.0,150.3 L86.8,165.7 L87.5,182.3 L88.2,173.1 L88.9,162.6 L89.6,165.7 L90.4,170.0 L91.1,168.4 L91.9,165.1 L92.6,166.7 L93.4,171.2 L94.1,167.4 L94.8,162.6 L95.6,152.1 L96.5,143.0 L97.1,155.5 L97.8,165.1 L98.4,171.0 L99.0,179.8 L99.6,171.5 L100.2,160.2 L101.0,161.9 L101.7,165.1 L102.5,164.7 L103.2,162.6 L103.9,163.6 L104.6,167.5 L105.3,164.8 L106.1,160.2 L106.6,171.3 L107.1,184.7 L107.8,175.7 L108.6,165.1 L109.3,167.1 L110.0,170.0 L110.8,167.1 L111.5,162.6 L112.2,163.8 L113.0,167.5 L113.8,165.1 L114.5,160.2 L115.2,161.0 L115.9,163.9 L116.6,161.1 L117.4,156.5 L118.1,162.2 L118.9,170.0 L119.6,166.0 L120.4,160.2 L121.1,162.8 L121.8,167.5 L122.5,172.5 L123.3,174.9 L124.0,169.3 L124.8,165.1 L125.5,158.8 L126.3,150.3 L127.0,167.3 L127.7,187.2 L128.5,177.5 L129.2,165.1 L130.0,169.4 L130.7,174.9 L131.5,171.5 L132.2,165.1 L132.9,161.3 L133.6,160.2 L134.4,164.5 L135.1,167.5 L135.9,163.1 L136.6,160.2 L137.4,165.8 L138.1,170.0 L138.8,164.6 L139.5,160.2 L140.2,164.1 L141.0,165.1 L141.8,161.8 L142.5,160.2 L143.2,166.5 L143.9,170.0 L144.7,164.5 L145.4,160.2 L146.2,164.3 L146.9,167.5 L147.7,160.0 L148.4,155.3 L149.1,160.2 L149.8,162.6 L150.6,158.7 L151.3,157.7 L152.1,166.3 L152.8,172.5 L153.6,166.5 L154.3,162.6 L155.2,168.8 L156.2,172.5 L157.0,178.1 L157.7,184.7 L158.2,169.8 L158.7,152.8 L159.4,158.0 L160.1,165.1 L160.9,168.2 L161.6,170.0 L162.4,165.2 L163.1,162.6 L163.9,165.8 L164.6,167.5 L165.3,164.1 L166.0,162.6 L166.8,162.2 L167.5,160.2 L168.2,161.9 L169.0,165.1 L169.7,168.4 L170.4,170.0 L171.2,165.2 L171.9,162.6 L172.7,166.5 L173.4,167.5 L174.2,162.4 L174.9,160.2 L175.6,165.2 L176.3,167.5 L177.1,163.7 L177.8,162.6 L178.6,169.5 L179.3,174.9 L180.1,167.3 L180.8,162.6 L181.5,160.9 L182.2,157.7 L183.0,158.4 L183.7,160.2 L184.5,164.8 L185.2,167.5 L186.0,157.7 L186.7,150.3 L187.4,161.0 L188.1,170.0 L188.9,164.0 L189.6,160.2 L190.4,163.4 L191.1,165.1 L191.9,166.1 L192.6,170.0 L193.3,167.2 L194.0,162.6 L194.8,164.1 L195.5,167.5 L196.2,164.9 L197.0,160.2 L197.8,155.1 L198.5,152.8 L198.9,150.6 L199.4,145.4 L200.2,154.2 L200.9,165.1 L201.7,162.3 L202.4,157.7 L203.2,159.1 L203.9,162.6 L204.6,165.6 L205.3,167.5 L206.1,166.6 L206.8,167.5 L207.5,166.4 L208.2,162.6 L209.0,166.3 L209.7,172.5 L210.5,169.3 L211.2,165.1 L212.0,168.7 L212.7,174.9 L213.4,169.6 L214.1,162.6 L214.9,162.4 L215.6,165.1 L216.4,163.5 L217.1,160.2 L217.9,165.7 L218.6,172.5 L219.3,174.7 L220.0,174.9 L220.8,169.8 L221.5,167.5 L222.2,166.0 L223.0,162.6 L223.8,158.8 L224.5,157.7 L225.2,163.8 L225.9,167.5 L226.7,163.0 L227.4,160.2 L228.2,162.2 L228.9,162.6 L229.7,156.7 L230.4,152.8 L231.1,166.0 L231.8,177.4 L232.6,170.4 L233.3,165.1 L234.1,168.7 L234.8,170.0 L235.6,164.9 L236.3,162.6 L237.0,168.6 L237.7,172.5 L238.5,168.2 L239.2,165.1 L240.0,176.8 L240.7,187.2 L241.5,175.3 L242.2,165.1 L242.9,163.7 L243.6,160.2 L244.4,164.5 L245.1,170.0 L245.9,166.8 L246.6,162.6 L247.4,163.1 L248.1,165.1 L248.8,159.7 L249.5,152.8 L250.2,159.7 L251.0,167.5 L251.8,169.8 L252.5,170.0 L253.2,166.1 L253.9,165.1 L254.7,164.9 L255.4,162.6 L256.2,162.6 L256.9,165.1 L257.7,164.0 L258.4,160.2 L259.1,157.6 L259.8,157.7 L260.6,164.0 L261.3,167.5 L262.1,164.1 L262.8,162.6 L263.6,165.0 L264.3,165.1 L265.2,165.7 L266.2,167.5 L266.9,167.7 L267.7,165.1 L268.4,166.7 L269.1,170.0 L269.9,172.2 L270.6,172.5 L271.4,168.6 L272.1,167.5 L272.6,175.1 L273.1,181.1 L273.9,172.5 L274.6,165.1 L275.3,161.5 L276.0,155.3 L276.8,160.3 L277.5,167.5 L278.2,165.6 L279.0,162.6 L279.7,167.1 L280.4,172.5 L281.2,169.6 L281.9,165.1 L282.7,162.2 L283.4,160.2 L284.2,161.5 L284.9,160.2 L285.6,162.0 L286.3,165.1 L287.1,167.0 L287.8,167.5 L288.6,169.1 L289.3,172.5 L290.1,175.9 L290.8,177.4 L291.5,170.3 L292.2,165.1 L292.9,167.4 L293.7,167.5 L294.4,163.9 L295.2,162.6 L295.9,161.1 L296.7,157.7 L297.4,159.6 L298.1,162.6 L298.9,166.5 L299.6,167.5 L300.4,165.1 L301.1,165.1 L301.6,171.1 L302.1,176.1" fill="none" stroke="#c0605a" stroke-width="0.8" stroke-linejoin="round"/>
<path d="M45.4,180.5 L45.9,181.4 L46.4,184.1 L47.1,176.7 L47.9,166.9 L48.6,161.8 L49.3,159.6 L50.0,163.8 L50.8,166.9 L51.5,164.0 L52.3,162.0 L53.0,160.5 L53.8,157.1 L54.5,168.5 L55.2,181.7 L56.0,176.9 L56.7,169.4 L57.5,165.6 L58.2,164.5 L59.0,169.0 L59.7,171.9 L60.4,168.5 L61.1,166.9 L61.9,165.5 L62.6,162.0 L63.3,157.0 L64.1,154.7 L64.8,164.0 L65.6,171.9 L66.3,168.5 L67.0,166.9 L67.5,181.0 L68.0,194.0 L68.8,176.9 L69.5,162.0 L70.2,164.9 L71.0,166.9 L71.7,170.4 L72.4,176.8 L73.2,174.1 L73.9,169.4 L74.7,165.9 L75.4,164.5 L76.2,166.9 L76.9,168.2 L77.6,164.4 L78.3,162.0 L79.0,164.8 L79.8,165.7 L80.5,160.6 L81.3,158.3 L82.0,163.6 L82.8,166.9 L83.5,162.5 L84.2,159.6 L85.0,156.1 L85.7,149.7 L86.5,164.6 L87.2,181.7 L87.9,172.9 L88.6,162.0 L89.3,165.0 L90.1,169.4 L90.8,167.7 L91.6,164.5 L92.3,166.2 L93.1,170.6 L93.8,166.9 L94.5,162.0 L95.3,151.2 L96.2,142.4 L96.8,154.6 L97.5,164.5 L98.1,171.0 L98.7,179.2 L99.3,170.7 L99.9,159.6 L100.7,160.6 L101.4,164.5 L102.2,164.6 L102.9,162.0 L103.6,163.2 L104.3,166.9 L105.0,163.9 L105.8,159.6 L106.3,171.3 L106.8,184.1 L107.5,175.2 L108.3,164.5 L109.0,166.2 L109.7,169.4 L110.5,166.4 L111.2,162.0 L112.0,163.1 L112.7,166.9 L113.5,163.9 L114.2,159.6 L114.9,160.1 L115.6,163.3 L116.3,161.0 L117.1,155.9 L117.8,162.1 L118.6,169.4 L119.3,165.9 L120.1,159.6 L120.8,162.4 L121.5,166.9 L122.2,171.3 L123.0,174.3 L123.8,168.8 L124.5,164.5 L125.2,157.6 L126.0,149.7 L126.7,167.2 L127.4,186.6 L128.2,176.4 L128.9,164.5 L129.7,168.1 L130.4,174.3 L131.2,170.7 L131.9,164.5 L132.6,161.5 L133.3,159.6 L134.1,164.1 L134.8,166.9 L135.6,162.4 L136.3,159.6 L137.1,165.1 L137.8,169.4 L138.5,163.8 L139.2,159.6 L139.9,162.8 L140.7,164.5 L141.4,160.9 L142.2,159.6 L142.9,165.3 L143.6,169.4 L144.3,163.9 L145.1,159.6 L145.8,163.9 L146.6,166.9 L147.3,159.9 L148.1,154.7 L148.8,159.4 L149.5,162.0 L150.2,158.8 L151.0,157.1 L151.8,165.7 L152.5,171.9 L153.2,166.3 L154.0,162.0 L154.9,168.1 L155.9,171.9 L156.7,176.9 L157.4,184.1 L157.9,168.8 L158.4,152.2 L159.1,157.1 L159.8,164.5 L160.6,167.8 L161.3,169.4 L162.1,164.7 L162.8,162.0 L163.6,165.5 L164.3,166.9 L165.0,163.3 L165.7,162.0 L166.4,161.7 L167.2,159.6 L167.9,161.5 L168.7,164.5 L169.4,168.2 L170.1,169.4 L170.8,164.3 L171.6,162.0 L172.3,165.4 L173.1,166.9 L173.8,162.2 L174.6,159.6 L175.3,164.0 L176.0,166.9 L176.8,163.1 L177.5,162.0 L178.2,169.3 L179.0,174.3 L179.8,167.5 L180.5,162.0 L181.2,160.9 L181.9,157.1 L182.7,156.9 L183.4,159.6 L184.2,164.1 L184.9,166.9 L185.7,156.8 L186.4,149.7 L187.1,160.5 L187.8,169.4 L188.6,163.9 L189.3,159.6 L190.1,163.3 L190.8,164.5 L191.6,166.1 L192.3,169.4 L193.0,166.9 L193.7,162.0 L194.4,163.4 L195.2,166.9 L195.9,163.8 L196.7,159.6 L197.4,154.9 L198.2,152.2 L198.6,149.8 L199.1,144.8 L199.8,153.7 L200.6,164.5 L201.3,161.8 L202.1,157.1 L202.8,158.2 L203.6,162.0 L204.3,165.4 L205.0,166.9 L205.8,165.9 L206.5,166.9 L207.2,165.5 L207.9,162.0 L208.7,165.6 L209.4,171.9 L210.2,168.9 L210.9,164.5 L211.7,168.9 L212.4,174.3 L213.1,169.4 L213.8,162.0 L214.6,162.2 L215.3,164.5 L216.1,162.8 L216.8,159.6 L217.6,164.4 L218.3,171.9 L219.0,174.5 L219.7,174.3 L220.4,169.6 L221.2,166.9 L221.9,165.9 L222.7,162.0 L223.4,158.2 L224.2,157.1 L224.9,163.2 L225.6,166.9 L226.3,162.5 L227.1,159.6 L227.8,161.3 L228.6,162.0 L229.3,155.9 L230.1,152.2 L230.8,165.7 L231.5,176.8 L232.2,169.8 L233.0,164.5 L233.8,167.9 L234.5,169.4 L235.2,164.7 L236.0,162.0 L236.7,167.7 L237.4,171.9 L238.2,167.0 L238.9,164.5 L239.7,176.6 L240.4,186.6 L241.2,174.7 L241.9,164.5 L242.6,162.6 L243.3,159.6 L244.1,163.5 L244.8,169.4 L245.6,166.5 L246.3,162.0 L247.1,162.0 L247.8,164.5 L248.5,159.0 L249.2,152.2 L249.9,158.7 L250.7,166.9 L251.4,168.8 L252.2,169.4 L252.9,166.1 L253.6,164.5 L254.3,164.3 L255.1,162.0 L255.9,162.7 L256.6,164.5 L257.4,162.6 L258.1,159.6 L258.8,157.4 L259.5,157.1 L260.2,162.7 L261.0,166.9 L261.8,163.5 L262.5,162.0 L263.2,163.9 L264.0,164.5 L264.9,165.1 L265.9,166.9 L266.6,166.7 L267.4,164.5 L268.1,165.5 L268.8,169.4 L269.6,172.0 L270.3,171.9 L271.1,168.4 L271.8,166.9 L272.3,174.6 L272.8,180.5 L273.6,172.0 L274.3,164.5 L275.0,160.3 L275.7,154.7 L276.4,160.0 L277.2,166.9 L277.9,165.9 L278.7,162.0 L279.4,166.4 L280.1,171.9 L280.9,169.6 L281.6,164.5 L282.4,161.1 L283.1,159.6 L283.9,160.5 L284.6,159.6 L285.3,161.3 L286.0,164.5 L286.8,167.2 L287.5,166.9 L288.2,168.8 L289.0,171.9 L289.8,175.4 L290.5,176.8 L291.2,169.7 L291.9,164.5 L292.6,166.4 L293.4,166.9 L294.1,163.8 L294.9,162.0 L295.6,161.0 L296.4,157.1 L297.1,158.3 L297.8,162.0 L298.6,165.7 L299.3,166.9 L300.1,164.3 L300.8,164.5 L301.3,170.6 L301.8,175.5" fill="none" stroke="#4f8a3c" stroke-width="1.0" stroke-linejoin="round"/>
<path d="M302.2,176.2 L302.9,166.7 L303.6,160.3 L304.3,165.6 L305.1,167.6 L305.8,164.2 L306.6,162.7 L307.3,167.6 L308.1,170.1 L308.8,162.0 L309.5,157.8 L310.2,156.4 L311.0,152.9 L311.8,162.3 L312.5,175.0 L313.0,184.4 L313.5,192.2 L314.2,177.2 L314.9,165.2 L315.6,169.9 L316.4,172.6 L317.1,166.3 L317.9,162.7 L318.8,162.6 L319.8,160.3 L320.5,160.9 L321.3,165.2 L322.0,169.3 L322.8,170.1 L323.5,173.7 L324.2,179.9 L324.9,174.1 L325.7,165.2 L326.4,167.7 L327.2,172.6 L327.9,169.4 L328.7,162.7 L329.4,164.2 L330.1,167.6 L330.8,161.6 L331.6,152.9 L332.3,157.6 L333.1,165.2 L333.8,171.2 L334.6,175.0 L335.3,165.7 L336.0,157.8 L336.8,162.3 L337.5,165.2 L338.2,164.9 L339.0,167.6 L339.8,166.0 L340.5,162.7 L341.2,158.6 L341.9,157.8 L342.6,165.3 L343.4,170.1 L344.1,165.7 L344.9,165.2 L345.6,168.2 L346.4,167.6 L347.1,162.3 L347.8,160.3 L348.5,160.2 L349.3,157.8 L350.0,159.6 L350.8,162.7 L351.5,162.9 L352.3,160.3 L353.0,162.3 L353.7,167.6 L354.4,170.7 L355.2,170.1 L355.9,165.5 L356.7,162.7 L357.4,159.9 L358.2,155.4 L358.9,158.3 L359.6,165.2 L360.3,173.0 L361.1,177.5 L361.8,181.1 L362.6,187.3 L363.3,195.1 L364.0,199.6 L364.8,185.3 L365.5,172.6 L366.2,169.0 L367.0,162.7 L367.8,160.0 L368.5,160.3 L369.2,165.4 L369.9,167.6 L370.6,170.5 L371.4,175.0 L372.1,188.1 L372.9,199.6 L373.6,179.7 L374.3,162.8 L375.0,168.3 L375.8,170.2 L376.5,164.5 L377.3,160.3 L378.0,163.4 L378.8,165.3 L379.5,160.9 L380.3,157.9 L381.0,162.0 L381.7,162.8 L382.4,155.5 L383.2,150.5 L383.9,159.1 L384.7,165.3 L385.4,160.8 L386.2,160.3 L386.9,166.7 L387.6,170.2 L388.3,165.5 L389.1,162.8 L389.8,169.3 L390.6,172.7 L391.3,165.9 L392.1,160.3 L392.8,165.0 L393.6,167.7 L394.3,171.1 L395.0,177.6 L395.5,187.0 L396.0,194.8 L396.8,178.2 L397.5,162.8 L398.2,166.6 L399.0,167.7 L399.7,162.9 L400.4,160.3 L401.1,164.8 L401.9,165.3 L402.6,159.6 L403.4,155.4 L404.1,160.8 L404.9,162.8 L405.6,160.4 L406.4,160.3 L407.1,167.0 L407.8,170.2 L408.5,166.5 L409.3,165.3 L410.0,168.0 L410.8,167.7 L411.5,162.9 L412.3,160.3 L413.0,157.5 L413.7,152.9 L414.4,156.6 L415.2,162.8 L415.9,168.2 L416.7,170.2 L417.4,166.7 L418.2,165.3 L418.9,167.4 L419.7,167.7 L420.4,162.8 L421.1,160.3 L421.8,164.7 L422.6,167.7 L423.3,164.2 L424.1,162.8 L424.8,158.1 L425.6,150.5 L426.3,159.0 L427.1,170.2 L427.8,167.9 L428.5,162.8 L429.2,164.2 L430.0,167.7 L430.8,164.6 L431.5,160.3 L432.2,162.2 L433.0,165.3 L433.7,165.1 L434.4,162.8 L435.1,159.5 L435.9,157.9 L436.6,166.7 L437.4,172.7 L438.1,168.0 L438.9,165.3 L439.6,164.5 L440.4,160.3 L441.1,161.4 L441.8,165.3 L442.5,163.1 L443.3,157.9 L443.8,158.7 L444.3,162.8" fill="none" stroke="#9c8ad0" stroke-width="1.0" stroke-linejoin="round"/>
<path d="M301.8,175.5 L302.5,165.9 L303.2,159.6 L303.9,164.7 L304.7,166.9 L305.4,163.2 L306.2,162.0 L306.9,166.6 L307.7,169.4 L308.4,161.1 L309.1,157.1 L309.9,156.3 L310.6,152.2 L311.4,162.3 L312.1,174.3 L312.6,185.3 L313.1,191.5 L313.8,176.2 L314.5,164.5 L315.2,170.0 L316.0,171.9 L316.8,165.4 L317.5,162.0 L318.4,161.8 L319.4,159.6 L320.1,159.6 L320.9,164.5 L321.6,168.0 L322.4,169.4 L323.1,172.9 L323.8,179.2 L324.6,174.3 L325.3,164.5 L326.1,167.2 L326.8,171.9 L327.6,168.6 L328.3,162.0 L329.0,162.9 L329.7,166.9 L330.4,160.7 L331.2,152.2 L331.9,156.0 L332.7,164.5 L333.4,170.9 L334.2,174.3 L334.9,164.9 L335.6,157.1 L336.4,162.4 L337.1,164.5 L337.9,164.9 L338.6,166.9 L339.4,166.4 L340.1,162.0 L340.8,157.3 L341.5,157.1 L342.2,165.6 L343.0,169.4 L343.8,166.1 L344.5,164.5 L345.2,167.6 L346.0,166.9 L346.7,162.0 L347.4,159.6 L348.1,159.9 L348.9,157.1 L349.6,158.3 L350.4,162.0 L351.1,162.1 L351.9,159.6 L352.6,162.3 L353.3,166.9 L354.1,170.0 L354.8,169.4 L355.6,164.8 L356.3,162.0 L357.1,160.8 L357.8,154.7 L358.5,158.8 L359.2,164.5 L359.9,173.1 L360.7,176.8 L361.4,180.6 L362.2,186.6 L362.9,193.6 L363.6,198.9 L364.4,183.3 L365.1,171.9 L365.9,168.6 L366.6,162.0 L367.4,158.7 L368.1,159.6 L368.8,164.9 L369.5,166.9 L370.2,168.7 L371.0,174.3 L371.8,187.5 L372.5,198.9 L373.2,178.6 L373.9,162.1 L374.6,167.4 L375.4,169.5 L376.1,162.1 L376.9,159.6 L377.6,162.9 L378.4,164.6 L379.1,160.0 L379.9,157.2 L380.6,161.6 L381.3,162.1 L382.1,153.6 L382.8,149.8 L383.6,158.7 L384.3,164.6 L385.1,160.1 L385.8,159.6 L386.5,166.3 L387.2,169.5 L387.9,164.4 L388.7,162.1 L389.4,168.6 L390.2,172.0 L390.9,164.0 L391.7,159.6 L392.4,164.1 L393.2,167.0 L393.9,170.7 L394.6,176.9 L395.1,187.5 L395.6,194.1 L396.4,176.9 L397.1,162.1 L397.9,166.1 L398.6,167.0 L399.3,162.1 L400.0,159.6 L400.8,163.5 L401.5,164.6 L402.2,157.8 L403.0,154.7 L403.8,160.5 L404.5,162.1 L405.2,158.4 L406.0,159.6 L406.7,166.1 L407.4,169.5 L408.1,165.9 L408.9,164.6 L409.6,167.1 L410.4,167.0 L411.1,162.4 L411.9,159.6 L412.6,157.1 L413.3,152.2 L414.1,155.4 L414.8,162.1 L415.6,167.6 L416.3,169.5 L417.1,165.9 L417.8,164.6 L418.6,166.9 L419.3,167.0 L420.0,162.4 L420.7,159.6 L421.4,164.4 L422.2,167.0 L422.9,162.9 L423.7,162.1 L424.4,157.1 L425.2,149.8 L425.9,157.4 L426.7,169.5 L427.4,167.5 L428.1,162.1 L428.9,163.2 L429.6,167.0 L430.4,164.8 L431.1,159.6 L431.9,161.3 L432.6,164.6 L433.3,165.4 L434.0,162.1 L434.8,157.6 L435.5,157.2 L436.2,166.0 L437.0,172.0 L437.8,166.3 L438.5,164.6 L439.2,163.3 L440.0,159.6 L440.7,161.0 L441.4,164.6 L442.1,162.0 L442.9,157.2 L443.4,158.6 L443.9,162.1" fill="none" stroke="#8470c4" stroke-width="1.0" stroke-linejoin="round"/>
<path d="M45.4,235.5 L46.0,239.0 L46.7,244.7 L47.4,248.1 L48.1,249.3 L48.8,250.4 L49.5,253.9 L50.2,251.0 L50.9,247.0 L51.6,243.4 L52.3,242.4 L52.9,244.5 L53.6,244.7 L54.3,242.7 L55.0,242.4 L55.7,245.7 L56.4,247.0 L57.1,248.4 L57.8,251.6 L58.5,253.4 L59.2,253.9 L59.8,250.7 L60.5,249.3 L61.2,248.1 L61.9,244.7 L62.6,241.2 L63.3,240.1 L64.0,239.2 L64.7,235.5 L65.4,242.9 L66.0,251.6 L66.7,246.1 L67.4,237.8 L68.1,238.8 L68.8,242.4 L69.5,247.0 L70.2,249.3 L70.9,242.1 L71.6,237.8 L72.2,241.8 L72.9,244.7 L73.6,235.4 L74.3,228.6 L75.0,235.7 L75.7,240.1 L76.4,241.8 L77.1,244.7 L77.8,250.4 L78.5,253.9 L79.1,246.7 L79.8,242.4 L80.5,250.1 L81.2,256.2 L81.9,246.8 L82.6,240.1 L83.3,240.4 L84.0,237.8 L84.7,240.3 L85.4,244.7 L86.0,240.7 L86.7,235.5 L87.4,240.6 L88.1,247.0 L88.8,250.6 L89.5,251.6 L90.2,249.6 L90.9,249.3 L91.6,246.6 L92.3,242.4 L93.0,238.0 L93.6,235.5 L94.3,234.6 L95.0,230.9 L95.7,232.5 L96.4,235.5 L97.2,240.6 L98.1,244.7 L98.7,245.6 L99.4,249.3 L100.1,245.5 L100.8,240.1 L101.5,240.4 L102.2,242.4 L102.9,237.0 L103.6,228.6 L104.3,231.3 L105.0,235.5 L105.6,234.9 L106.3,233.2 L107.0,236.4 L107.7,242.4 L108.4,245.4 L109.1,247.0 L109.8,245.7 L110.5,245.8 L111.2,249.0 L111.9,249.3 L112.5,246.3 L113.2,244.7 L113.9,241.5 L114.6,235.5 L115.3,232.4 L116.0,230.9 L116.7,235.1 L117.4,237.8 L118.0,239.4 L118.7,242.4 L119.4,242.3 L120.1,240.1 L120.8,241.4 L121.5,244.7 L122.2,242.1 L122.9,237.8 L123.6,235.1 L124.3,234.3 L125.0,240.3 L125.6,244.7 L126.3,245.7 L127.0,249.3 L127.7,249.6 L128.4,247.0 L129.1,248.1 L129.8,251.6 L130.5,250.6 L131.2,247.0 L131.9,247.6 L132.5,249.3 L133.2,246.6 L133.9,242.4 L134.6,238.3 L135.3,235.5 L136.0,237.3 L136.7,237.8 L137.4,240.9 L138.1,247.0 L138.8,250.7 L139.4,251.6 L140.1,249.0 L140.8,249.3 L141.5,251.5 L142.2,251.6 L142.9,246.4 L143.6,242.4 L144.3,239.8 L145.0,235.5 L145.7,232.7 L146.3,230.9 L147.0,235.7 L147.7,237.8 L148.4,239.4 L149.1,242.4 L149.8,242.0 L150.5,240.1 L151.1,244.4 L151.7,251.6 L152.4,254.0 L153.1,255.0 L153.8,248.4 L154.4,244.7 L155.1,240.9 L155.8,235.5 L156.5,237.8 L157.2,242.4 L157.9,245.3 L158.6,247.0 L159.3,247.9 L160.0,251.6 L160.7,251.3 L161.3,249.3 L162.0,245.0 L162.7,242.4 L163.4,241.2 L164.1,237.8 L164.8,237.9 L165.5,240.1 L166.2,238.5 L166.9,235.5 L167.6,238.4 L168.2,242.4 L168.9,246.9 L169.6,249.3 L170.3,250.0 L171.0,251.6 L171.7,248.4 L172.4,242.4 L173.1,241.6 L173.7,242.4 L174.4,241.9 L175.1,240.1 L175.8,237.0 L176.5,235.5 L176.9,233.8 L177.4,230.9 L178.1,235.9 L178.8,242.4 L179.5,242.3 L180.2,240.1 L180.9,240.4 L181.6,242.4 L182.2,245.5 L182.9,247.0 L183.6,242.8 L184.3,240.1 L185.0,236.5 L185.7,230.9 L186.4,225.0 L187.1,221.7 L187.8,224.9 L188.5,226.3 L189.2,227.3 L189.8,230.9 L190.5,234.2 L191.2,235.5 L191.9,237.2 L192.6,240.1 L193.3,239.6 L194.0,237.8 L194.7,237.6 L195.4,240.1 L196.1,237.6 L196.7,233.2 L197.4,231.2 L198.1,230.9 L198.8,235.3 L199.5,237.8 L199.9,228.4 L200.4,221.7 L201.1,228.3 L201.8,233.2 L202.5,231.2 L203.2,230.9 L203.9,238.6 L204.6,244.7 L205.2,239.6 L205.9,235.5 L206.3,238.8 L206.7,240.1 L207.4,235.7 L208.1,233.2 L208.8,235.3 L209.4,235.5 L210.1,232.3 L210.8,230.9 L211.5,238.7 L212.2,244.7 L212.9,241.2 L213.6,240.1 L214.3,237.3 L215.0,233.2 L215.7,228.3 L216.3,226.3 L217.0,231.5 L217.7,235.5 L218.4,229.5 L219.1,226.3 L219.8,225.8 L220.5,224.0 L221.2,226.2 L221.9,230.9 L222.6,233.9 L223.2,235.5 L223.9,236.1 L224.6,237.8 L225.3,236.5 L226.0,233.2 L226.7,230.7 L227.4,230.9 L228.1,234.5 L228.7,235.5 L229.4,236.4 L230.1,240.1 L230.8,240.4 L231.5,237.8 L232.2,239.6 L232.9,242.4 L233.6,244.4 L234.3,244.7 L235.0,248.7 L235.6,253.9 L236.3,250.5 L237.0,244.7 L237.7,241.5 L238.4,240.1 L239.1,242.5 L239.8,242.4 L240.5,245.7 L241.2,251.6 L241.9,254.8 L242.5,255.0 L243.2,255.6 L243.9,258.5 L244.6,255.3 L245.3,249.3 L246.0,244.8 L246.7,242.4 L247.4,240.6 L248.1,237.8 L248.8,241.0 L249.4,247.0 L250.1,251.0 L250.8,253.9 L251.5,254.5 L252.2,256.2 L252.9,261.0 L253.6,263.1 L254.3,256.6 L255.0,251.6 L255.7,250.4 L256.3,247.0 L257.0,243.1 L257.7,240.1 L258.4,241.9 L259.1,242.4 L259.8,244.6 L260.5,249.3 L261.2,252.1 L261.9,253.9 L262.5,255.2 L263.1,258.5 L263.8,256.5 L264.4,251.6 L265.1,252.1 L265.8,253.9 L266.5,251.6 L267.2,247.0 L267.9,241.2 L268.6,237.8 L269.3,233.7 L270.0,227.4 L270.7,230.2 L271.3,235.5 L272.0,239.0 L272.7,240.1 L273.4,245.4 L274.1,251.6 L274.8,248.8 L275.5,244.7 L276.2,241.4 L276.9,240.1 L277.6,239.3 L278.2,235.5 L278.9,238.3 L279.6,242.4 L280.3,244.6 L281.0,244.7 L281.7,241.8 L282.4,240.1 L283.1,248.3 L283.7,253.9 L284.4,254.1 L285.1,256.2 L285.8,254.9 L286.5,251.6 L287.2,242.4 L287.9,235.5 L288.6,239.5 L289.3,242.4 L289.9,243.5 L290.6,247.0 L291.3,250.6 L292.0,251.6 L292.7,251.4 L293.4,253.9 L294.1,254.0 L294.8,252.7 L295.5,253.2 L296.2,255.0 L296.8,253.9 L297.5,251.6 L298.2,245.6 L298.9,242.4 L299.6,239.9 L300.3,235.5 L301.0,232.3 L301.7,230.9 L302.4,234.2 L303.1,235.5" fill="none" stroke="#c06058" stroke-width="0.8" stroke-linejoin="round"/>
<path d="M45.1,234.9 L45.8,238.3 L46.4,244.1 L47.1,247.2 L47.8,248.7 L48.5,250.2 L49.2,253.3 L49.9,251.1 L50.6,246.4 L51.3,242.8 L52.0,241.8 L52.6,243.7 L53.3,244.1 L54.0,242.4 L54.7,241.8 L55.4,245.5 L56.1,246.4 L56.8,247.5 L57.5,251.0 L58.2,253.2 L58.9,253.3 L59.5,250.1 L60.2,248.7 L60.9,247.9 L61.6,244.1 L62.3,240.9 L63.0,239.5 L63.7,237.9 L64.4,234.9 L65.1,242.4 L65.7,251.0 L66.4,244.9 L67.1,237.2 L67.8,238.4 L68.5,241.8 L69.2,246.1 L69.9,248.7 L70.6,241.5 L71.3,237.2 L71.9,241.8 L72.6,244.1 L73.3,235.1 L74.0,228.0 L74.7,234.9 L75.4,239.5 L76.1,240.7 L76.8,244.1 L77.5,249.8 L78.2,253.3 L78.8,246.6 L79.5,241.8 L80.2,249.7 L80.9,255.6 L81.6,246.6 L82.3,239.5 L83.0,239.7 L83.7,237.2 L84.4,240.0 L85.1,244.1 L85.8,240.8 L86.4,234.9 L87.1,239.9 L87.8,246.4 L88.5,250.0 L89.2,251.0 L89.9,249.3 L90.6,248.7 L91.3,246.2 L92.0,241.8 L92.7,237.4 L93.3,234.9 L94.0,233.8 L94.7,230.3 L95.4,231.9 L96.1,234.9 L96.9,240.2 L97.8,244.1 L98.4,245.8 L99.1,248.7 L99.8,245.1 L100.5,239.5 L101.2,239.6 L101.9,241.8 L102.6,235.4 L103.3,228.0 L104.0,230.8 L104.7,234.9 L105.3,234.4 L106.0,232.6 L106.7,235.7 L107.4,241.8 L108.1,245.0 L108.8,246.4 L109.5,244.8 L110.2,245.2 L110.9,247.7 L111.6,248.7 L112.2,245.3 L112.9,244.1 L113.6,240.8 L114.3,234.9 L115.0,231.4 L115.7,230.3 L116.4,234.2 L117.1,237.2 L117.8,238.6 L118.4,241.8 L119.1,241.6 L119.8,239.5 L120.5,241.3 L121.2,244.1 L121.9,241.9 L122.6,237.2 L123.3,234.7 L124.0,233.7 L124.7,239.7 L125.3,244.1 L126.0,245.3 L126.7,248.7 L127.4,248.6 L128.1,246.4 L128.8,247.7 L129.5,251.0 L130.2,250.1 L130.9,246.4 L131.6,246.6 L132.2,248.7 L132.9,246.1 L133.6,241.8 L134.3,237.8 L135.0,234.9 L135.7,237.1 L136.4,237.2 L137.1,241.0 L137.8,246.4 L138.4,249.7 L139.1,251.0 L139.8,249.0 L140.5,248.7 L141.2,250.3 L141.9,251.0 L142.6,245.9 L143.3,241.8 L144.0,239.0 L144.7,234.9 L145.3,232.1 L146.0,230.3 L146.7,235.1 L147.4,237.2 L148.1,238.4 L148.8,241.8 L149.5,241.4 L150.2,239.5 L150.8,244.1 L151.4,251.0 L152.1,253.8 L152.8,254.4 L153.4,248.7 L154.1,244.1 L154.8,240.7 L155.5,234.9 L156.2,237.7 L156.9,241.8 L157.6,245.6 L158.3,246.4 L159.0,248.1 L159.7,251.0 L160.3,250.6 L161.0,248.7 L161.7,244.5 L162.4,241.8 L163.1,240.9 L163.8,237.2 L164.5,237.0 L165.2,239.5 L165.9,238.3 L166.6,234.9 L167.2,237.7 L167.9,241.8 L168.6,246.2 L169.3,248.7 L170.0,248.7 L170.7,251.0 L171.4,246.9 L172.1,241.8 L172.8,240.4 L173.4,241.8 L174.1,242.0 L174.8,239.5 L175.5,235.8 L176.2,234.9 L176.6,233.8 L177.1,230.3 L177.8,235.0 L178.5,241.8 L179.2,242.1 L179.9,239.5 L180.6,239.9 L181.3,241.8 L181.9,244.9 L182.6,246.4 L183.3,242.4 L184.0,239.5 L184.7,235.5 L185.4,230.3 L186.1,224.4 L186.8,221.1 L187.5,223.9 L188.2,225.7 L188.8,226.8 L189.5,230.3 L190.2,233.5 L190.9,234.9 L191.6,235.8 L192.3,239.5 L193.0,239.6 L193.7,237.2 L194.4,237.2 L195.1,239.5 L195.8,237.4 L196.4,232.6 L197.1,231.0 L197.8,230.3 L198.5,234.5 L199.2,237.2 L199.6,228.3 L200.1,221.1 L200.8,227.8 L201.5,232.6 L202.2,230.3 L202.9,230.3 L203.6,238.6 L204.3,244.1 L204.9,238.3 L205.6,234.9 L206.0,238.6 L206.4,239.5 L207.1,234.9 L207.8,232.6 L208.4,234.6 L209.1,234.9 L209.8,231.6 L210.5,230.3 L211.2,238.4 L211.9,244.1 L212.6,240.5 L213.3,239.5 L214.0,236.9 L214.7,232.6 L215.3,228.3 L216.0,225.7 L216.7,231.4 L217.4,234.9 L218.1,229.6 L218.8,225.7 L219.5,225.9 L220.2,223.4 L220.9,226.4 L221.6,230.3 L222.2,233.7 L222.9,234.9 L223.6,235.1 L224.3,237.2 L225.0,235.6 L225.7,232.6 L226.4,230.4 L227.1,230.3 L227.8,233.5 L228.4,234.9 L229.1,235.7 L229.8,239.5 L230.5,239.7 L231.2,237.2 L231.9,238.4 L232.6,241.8 L233.3,244.3 L234.0,244.1 L234.7,247.3 L235.3,253.3 L236.0,249.3 L236.7,244.1 L237.4,240.5 L238.1,239.5 L238.8,242.0 L239.5,241.8 L240.2,244.9 L240.9,251.0 L241.6,253.9 L242.2,254.4 L242.9,255.3 L243.6,257.9 L244.3,254.0 L245.0,248.7 L245.7,244.1 L246.4,241.8 L247.1,240.2 L247.8,237.2 L248.4,240.6 L249.1,246.4 L249.8,250.9 L250.5,253.3 L251.2,253.1 L251.9,255.6 L252.6,259.9 L253.3,262.5 L254.0,256.0 L254.7,251.0 L255.3,250.1 L256.0,246.4 L256.7,241.8 L257.4,239.5 L258.1,241.5 L258.8,241.8 L259.5,244.2 L260.2,248.7 L260.9,251.9 L261.6,253.3 L262.2,254.5 L262.8,257.9 L263.5,255.4 L264.1,251.0 L264.8,251.4 L265.5,253.3 L266.2,251.3 L266.9,246.4 L267.6,240.4 L268.3,237.2 L269.0,233.2 L269.7,226.8 L270.4,230.1 L271.0,234.9 L271.7,237.9 L272.4,239.5 L273.1,244.0 L273.8,251.0 L274.5,248.9 L275.2,244.1 L275.9,240.7 L276.6,239.5 L277.2,237.9 L277.9,234.9 L278.6,237.1 L279.3,241.8 L280.0,243.9 L280.7,244.1 L281.4,241.0 L282.1,239.5 L282.8,247.5 L283.4,253.3 L284.1,253.5 L284.8,255.6 L285.5,254.4 L286.2,251.0 L286.9,241.7 L287.6,234.9 L288.3,239.8 L289.0,241.8 L289.6,243.5 L290.3,246.4 L291.0,249.7 L291.7,251.0 L292.4,250.7 L293.1,253.3 L293.8,253.8 L294.5,252.1 L295.2,252.2 L295.9,254.4 L296.5,254.0 L297.2,251.0 L297.9,245.9 L298.6,241.8 L299.3,239.6 L300.0,234.9 L300.7,231.5 L301.4,230.3 L302.1,233.7 L302.8,234.9" fill="none" stroke="#6e5a40" stroke-width="1.0" stroke-linejoin="round"/>
<path d="M303.2,235.6 L303.9,239.2 L304.5,244.8 L305.2,250.3 L305.9,252.8 L306.6,249.2 L307.3,247.1 L308.0,241.5 L308.7,233.3 L309.4,231.2 L310.1,231.0 L310.8,238.7 L311.4,242.5 L312.1,238.5 L312.8,237.9 L313.5,243.8 L314.2,247.1 L314.9,244.3 L315.6,244.8 L316.2,247.1 L316.8,247.1 L317.5,242.3 L318.2,240.2 L318.9,235.3 L319.5,228.7 L320.0,225.7 L320.5,226.4 L321.1,235.0 L321.8,240.2 L322.5,233.9 L323.2,231.0 L323.9,242.1 L324.6,251.7 L325.3,244.2 L326.0,240.2 L326.7,243.1 L327.4,244.8 L328.0,240.0 L328.7,237.9 L329.4,235.7 L330.1,231.0 L330.8,234.9 L331.5,240.2 L332.2,239.1 L332.9,235.6 L333.6,244.1 L334.3,256.3 L334.9,249.7 L335.6,240.2 L336.3,239.2 L337.0,240.2 L337.7,240.8 L338.4,237.9 L339.1,239.1 L339.8,242.5 L340.4,239.8 L341.1,233.3 L341.8,240.2 L342.5,249.4 L343.2,245.5 L343.9,240.2 L344.6,238.2 L345.3,240.2 L346.0,244.3 L346.7,247.1 L347.4,249.6 L348.0,254.0 L348.7,256.8 L349.4,256.3 L350.1,250.9 L350.8,247.1 L351.2,243.9 L351.7,237.9 L352.4,243.0 L353.1,251.7 L353.8,256.6 L354.5,258.6 L355.2,262.1 L355.9,267.8 L356.5,259.1 L357.2,247.1 L357.9,248.8 L358.6,254.0 L359.3,260.0 L360.0,263.2 L360.7,256.0 L361.4,251.7 L362.1,248.2 L362.8,242.5 L363.4,245.9 L364.1,251.7 L364.8,251.4 L365.5,247.1 L366.2,250.9 L366.9,258.6 L367.6,261.5 L368.3,263.2 L369.0,260.0 L369.7,258.6 L370.4,256.1 L371.0,251.7 L371.7,245.4 L372.4,242.5 L372.8,249.1 L373.2,253.9 L373.9,249.6 L374.5,247.0 L375.2,251.0 L375.9,251.6 L376.6,249.6 L377.3,249.3 L378.0,254.7 L378.7,256.2 L379.4,248.1 L380.0,242.4 L380.7,239.7 L381.4,233.2 L382.1,233.8 L382.8,237.8 L383.5,244.4 L384.2,249.3 L384.9,248.8 L385.5,251.6 L386.2,255.1 L386.9,256.2 L387.6,257.5 L388.3,260.7 L389.0,256.8 L389.7,251.6 L390.4,245.4 L391.0,242.4 L391.7,241.5 L392.4,237.8 L393.1,241.4 L393.8,247.0 L394.5,253.4 L395.2,256.2 L395.9,261.0 L396.5,267.6 L397.2,260.8 L397.9,251.6 L398.6,249.7 L399.3,249.3 L400.0,249.2 L400.7,247.0 L401.4,240.6 L402.1,237.8 L402.8,242.6 L403.4,244.7 L404.1,248.5 L404.8,253.9 L405.5,257.1 L406.2,258.5 L406.9,254.7 L407.6,253.9 L408.2,252.6 L408.9,249.3 L409.6,246.3 L410.3,247.0 L411.0,250.0 L411.7,251.6 L412.4,242.9 L413.1,237.8 L413.8,250.7 L414.4,260.7 L415.1,253.2 L415.8,249.3 L416.5,248.1 L417.2,244.7 L417.9,248.6 L418.6,253.9 L419.2,252.4 L419.9,249.3 L420.6,245.5 L421.3,244.7 L422.0,240.7 L422.7,235.5 L423.4,239.3 L424.1,244.7 L424.8,248.7 L425.4,249.3 L426.1,252.1 L426.8,258.5 L427.5,262.5 L428.2,263.0 L428.9,260.1 L429.6,260.7 L430.3,255.2 L431.0,247.0 L431.6,238.9 L432.3,234.4 L433.0,240.0 L433.7,242.4 L434.4,243.3 L435.1,247.0 L435.8,249.3 L436.5,249.3 L437.1,249.8 L437.8,251.6 L438.5,254.6 L439.2,256.2 L439.9,256.4 L440.6,258.5 L441.3,252.8 L442.0,244.7 L442.6,237.0 L443.3,230.9 L444.0,240.9 L444.7,247.0" fill="none" stroke="#d49ac8" stroke-width="1.0" stroke-linejoin="round"/>
<path d="M302.8,234.9 L303.5,238.0 L304.1,244.1 L304.8,249.9 L305.5,252.1 L306.2,247.2 L306.9,246.4 L307.6,240.5 L308.3,232.6 L309.0,229.4 L309.7,230.3 L310.4,238.2 L311.0,241.8 L311.7,238.4 L312.4,237.2 L313.1,242.7 L313.8,246.4 L314.5,243.4 L315.2,244.1 L315.8,247.3 L316.4,246.4 L317.1,241.1 L317.8,239.5 L318.5,235.0 L319.1,228.0 L319.6,225.3 L320.1,225.7 L320.8,233.4 L321.4,239.5 L322.1,233.9 L322.8,230.3 L323.5,242.0 L324.2,251.0 L324.9,243.4 L325.6,239.5 L326.3,242.6 L327.0,244.1 L327.6,238.6 L328.3,237.2 L329.0,234.5 L329.7,230.3 L330.4,232.7 L331.1,239.5 L331.8,238.2 L332.5,234.9 L333.2,243.3 L333.9,255.6 L334.5,249.5 L335.2,239.5 L335.9,237.4 L336.6,239.5 L337.3,239.7 L338.0,237.2 L338.7,237.8 L339.4,241.8 L340.0,238.3 L340.7,232.6 L341.4,238.7 L342.1,248.7 L342.8,244.9 L343.5,239.5 L344.2,237.5 L344.9,239.5 L345.6,244.5 L346.3,246.4 L347.0,249.1 L347.6,253.3 L348.3,256.6 L349.0,255.6 L349.7,249.9 L350.4,246.4 L350.9,242.6 L351.3,237.2 L352.0,243.0 L352.7,251.0 L353.4,255.2 L354.1,257.9 L354.8,261.4 L355.5,267.1 L356.1,258.5 L356.8,246.4 L357.5,247.7 L358.2,253.3 L358.9,259.5 L359.6,262.5 L360.3,254.8 L361.0,251.0 L361.7,248.3 L362.4,241.8 L363.0,244.6 L363.7,251.0 L364.4,250.0 L365.1,246.4 L365.8,251.1 L366.5,257.9 L367.2,261.1 L367.9,262.5 L368.6,258.7 L369.3,257.9 L370.0,255.4 L370.6,251.0 L371.3,244.6 L372.0,241.8 L372.4,248.7 L372.8,253.2 L373.5,248.2 L374.1,246.3 L374.8,250.1 L375.5,250.9 L376.2,248.1 L376.9,248.6 L377.6,252.9 L378.3,255.5 L379.0,247.5 L379.6,241.7 L380.3,238.8 L381.0,232.5 L381.7,233.8 L382.4,237.1 L383.1,244.5 L383.8,248.6 L384.5,247.6 L385.1,250.9 L385.8,254.5 L386.5,255.5 L387.2,255.6 L387.9,260.0 L388.6,257.1 L389.3,250.9 L390.0,244.2 L390.6,241.7 L391.3,240.9 L392.0,237.1 L392.7,239.9 L393.4,246.3 L394.1,252.6 L394.8,255.5 L395.5,260.2 L396.1,266.9 L396.8,260.4 L397.5,250.9 L398.2,248.2 L398.9,248.6 L399.6,248.8 L400.3,246.3 L401.0,240.0 L401.7,237.1 L402.4,242.6 L403.0,244.0 L403.7,246.7 L404.4,253.2 L405.1,257.4 L405.8,257.8 L406.5,254.6 L407.2,253.2 L407.9,252.6 L408.5,248.6 L409.2,245.8 L409.9,246.3 L410.6,250.7 L411.3,250.9 L412.0,243.3 L412.7,237.1 L413.4,249.5 L414.0,260.0 L414.7,252.1 L415.4,248.6 L416.1,247.5 L416.8,244.0 L417.5,246.9 L418.2,253.2 L418.9,252.5 L419.5,248.6 L420.2,245.0 L420.9,244.0 L421.6,240.7 L422.3,234.8 L423.0,237.9 L423.7,244.0 L424.4,248.5 L425.0,248.6 L425.7,251.7 L426.4,257.8 L427.1,261.9 L427.8,262.3 L428.5,260.0 L429.2,260.0 L429.9,254.9 L430.6,246.3 L431.2,238.4 L431.9,233.7 L432.6,239.5 L433.3,241.7 L434.0,242.0 L434.7,246.3 L435.4,248.2 L436.1,248.6 L436.8,247.6 L437.4,250.9 L438.1,254.8 L438.8,255.5 L439.5,255.6 L440.2,257.8 L440.9,252.3 L441.6,244.0 L442.2,236.3 L442.9,230.2 L443.6,239.3 L444.3,246.3" fill="none" stroke="#946c8c" stroke-width="1.0" stroke-linejoin="round"/>
<rect x="152" y="0" width="203.5" height="16" fill="#fff"/>
<text x="159.6" y="13.7" class="ti" textLength="188.6" lengthAdjust="spacingAndGlyphs">AMOC dynamical decomposition at 26.5°N</text>
<text x="438.6" y="293.6" class="al">time</text>
<text transform="translate(479.6,116.4) rotate(90)" class="yl" textLength="89.3" lengthAdjust="spacingAndGlyphs">mocmax_rapid [Sv]</text>
<rect x="462" y="79" width="5" height="3.6" fill="#fff"/>
<rect x="449.5" y="8.5" width="94.8" height="71.5" fill="#fff" stroke="#e2e2e2" stroke-width="1"/>
<line x1="451.3" y1="13.1" x2="464" y2="13.1" stroke="#9ca0d8" stroke-width="1.3"/>
<text x="468.6" y="15.4" class="lg" textLength="73.1" lengthAdjust="spacingAndGlyphs">Gulf Stream Contribution</text>
<line x1="451.3" y1="21.8" x2="464" y2="21.8" stroke="#d2d088" stroke-width="1.3"/>
<text x="468.6" y="24.1" class="lg" textLength="43.7" lengthAdjust="spacingAndGlyphs">Tot_Max_Rapid</text>
<line x1="451.3" y1="30.5" x2="464" y2="30.5" stroke="#a4a486" stroke-width="1.3"/>
<text x="468.6" y="32.8" class="lg" textLength="48.6" lengthAdjust="spacingAndGlyphs">Ekman transport</text>
<line x1="451.3" y1="39.2" x2="464" y2="39.2" stroke="#aaa08c" stroke-width="1.3"/>
<text x="468.6" y="41.5" class="lg" textLength="72.6" lengthAdjust="spacingAndGlyphs">THERM - EKMAN - TOTAL</text>
<line x1="451.3" y1="47.9" x2="464" y2="47.9" stroke="#b0a6d8" stroke-width="1.3"/>
<text x="468.6" y="50.2" class="lg" textLength="40.5" lengthAdjust="spacingAndGlyphs">RAPID_ekman</text>
<line x1="451.3" y1="56.6" x2="464" y2="56.6" stroke="#a6a690" stroke-width="1.3"/>
<text x="468.6" y="58.9" class="lg" textLength="25.1" lengthAdjust="spacingAndGlyphs">RAPID_fc</text>
<line x1="451.3" y1="65.3" x2="464" y2="65.3" stroke="#c8c0e0" stroke-width="1.3"/>
<text x="468.6" y="67.6" class="lg" textLength="34.0" lengthAdjust="spacingAndGlyphs">RAPID_UMO</text>
<line x1="451.3" y1="74.0" x2="464" y2="74.0" stroke="#a09896" stroke-width="1.3"/>
<text x="468.6" y="76.3" class="lg" textLength="45.6" lengthAdjust="spacingAndGlyphs">RAPID_mocmax</text>
</svg>
</body></html>
